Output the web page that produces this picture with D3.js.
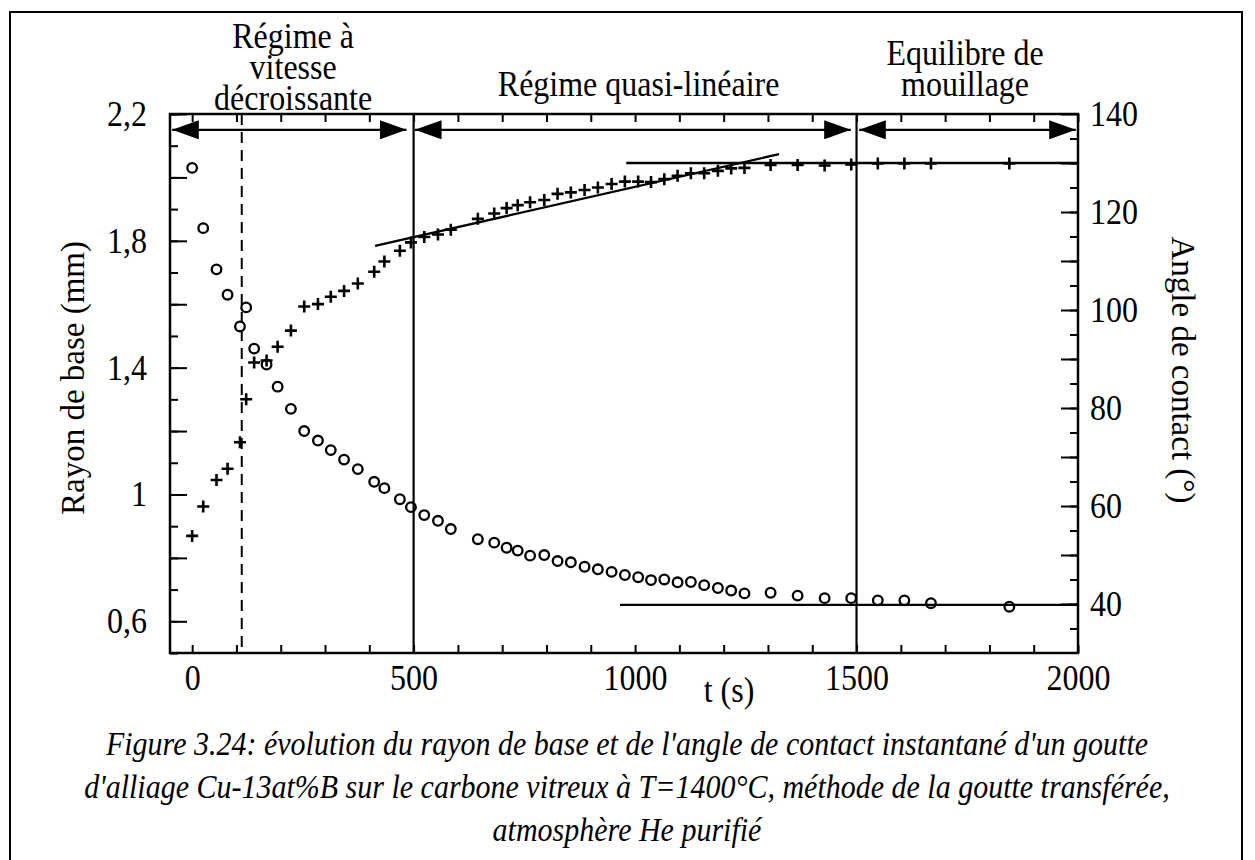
<!DOCTYPE html>
<html>
<head>
<meta charset="utf-8">
<script src="https://cdn.jsdelivr.net/npm/d3@7"></script>
<style>
  html, body { margin: 0; padding: 0; background: #fff; }
  svg { display: block; }
  text { font-family: "Liberation Serif", "Times New Roman", serif; fill: #000; }
</style>
</head>
<body>
<svg id="chart" width="1255" height="860"></svg>
<script>
// ---------------- data ----------------
const times = [0, 25, 55, 80, 108, 122, 140, 168, 193, 223,
  253, 284, 313, 343, 374, 411, 434, 469, 494, 524,
  555, 584, 645, 682, 710, 735, 763, 795, 825, 855,
  886, 916, 947, 977, 1007, 1036, 1066, 1096, 1126, 1156,
  1187, 1217, 1247, 1306, 1367, 1428, 1488, 1548, 1608, 1668, 1845];

const radius = [2.03, 1.84, 1.71, 1.63, 1.53, 1.59, 1.46, 1.41, 1.34, 1.27,
  1.20, 1.17, 1.14, 1.11, 1.08, 1.04, 1.02, 0.985, 0.96, 0.935,
  0.917, 0.891, 0.859, 0.848, 0.832, 0.823, 0.807, 0.809, 0.790, 0.786,
  0.772, 0.764, 0.756, 0.746, 0.739, 0.730, 0.732, 0.723, 0.724, 0.714,
  0.705, 0.697, 0.688, 0.690, 0.681, 0.673, 0.673, 0.666, 0.666, 0.657, 0.646];

const angle = [53.9, 59.9, 65.3, 67.6, 73.0, 81.8, 89.3, 89.7, 92.5, 95.8,
  100.7, 101.2, 102.7, 103.9, 105.4, 107.8, 109.9, 112.1, 113.8, 114.9,
  115.4, 116.4, 118.6, 119.7, 120.8, 121.4, 122.0, 122.45, 123.7, 124.0,
  124.5, 125.0, 125.7, 126.2, 126.2, 126.1, 126.7, 127.4, 127.9, 127.9,
  128.4, 128.9, 129.0, 129.6, 129.6, 129.5, 129.7, 129.9, 129.9, 129.9, 129.9];

const xTickLabels = [0, 500, 1000, 1500, 2000];
const leftTickLabels = [2.2, 1.8, 1.4, 1.0, 0.6];
const rightTickLabels = [40, 60, 80, 100, 120, 140];

// fitted lines: [t1, v1, t2, v2]
const slopeLine = [413, 113.1, 1325, 131.8];        // angle axis
const angleEquilibrium = [980, 130, 2000, 130];     // angle axis
const radiusEquilibrium = [966, 0.652, 2000, 0.652]; // radius axis

// regime boundaries (s)
const dashedBoundary = 112;
const solidBoundaries = [500, 1500];

// double arrows (s)
const arrowSpans = [[-45, 484], [503, 1487], [1506, 1995]];
const arrowLevel = 2.15; // on radius axis

const regimeLabels = [
  { t: 228, lines: ["Régime à", "vitesse", "décroissante"] },
  { t: 1008, lines: ["Régime quasi-linéaire"] },
  { t: 1745, lines: ["Equilibre de", "mouillage"] }
];
const regimeLastBaseline = [110, 96, 96];

const captionLines = [
  "Figure 3.24: évolution du rayon de base et de l'angle de contact instantané d'un goutte",
  "d'alliage Cu-13at%B sur le carbone vitreux à T=1400°C, méthode de la goutte transférée,",
  "atmosphère He purifié"
];

// ---------------- layout ----------------
const L = 170, R = 1078, T = 114, B = 653;
const svg = d3.select("#chart");
const FS = 32;
const SY = 1.12; // vertical stretch of the glyphs

const x = d3.scaleLinear().domain([-50, 2000]).range([L, R]);
const yL = d3.scaleLinear().domain([0.5, 2.2]).range([B, T]);
const yR = d3.scaleLinear().domain([30, 140]).range([B, T]);

// outer border (open at bottom)
svg.append("path")
  .attr("d", `M10,870 L10,12 L1242,12 L1242,870`)
  .attr("fill", "none").attr("stroke", "#000").attr("stroke-width", 2);

function styleAxis(g) {
  g.select(".domain").remove();
  g.selectAll(".tick line").attr("stroke", "#000").attr("stroke-width", 2);
  g.selectAll("text").attr("font-size", FS).attr("fill", "#000");
}
// stretch tick text vertically around its own anchor point
function stretchTicks(g) {
  g.selectAll(".tick text").each(function () {
    const t = d3.select(this);
    const tx = +t.attr("x") || 0, ty = +t.attr("y") || 0;
    t.attr("x", null).attr("y", null)
      .attr("transform", `translate(${tx},${ty}) scale(1,${SY})`);
  });
}

const fmtComma = v => (Math.abs(v - Math.round(v)) < 1e-9 ? String(Math.round(v)) : d3.format(".1f")(v).replace(".", ","));

// left axis: minor every 0.1, major every 0.2
const leftMinor = d3.range(0.5, 2.2001, 0.1).map(v => +v.toFixed(2));
const leftMajor = d3.range(0.6, 2.2001, 0.2).map(v => +v.toFixed(2));
svg.append("g").attr("transform", `translate(${L},0)`)
  .call(d3.axisLeft(yL).tickValues(leftMinor).tickSize(-8).tickFormat(""))
  .call(styleAxis);
svg.append("g").attr("transform", `translate(${L},0)`)
  .call(d3.axisLeft(yL).tickValues(leftMajor).tickSize(-17).tickPadding(23)
    .tickFormat(v => leftTickLabels.some(l => Math.abs(l - v) < 1e-6) ? fmtComma(v) : ""))
  .call(styleAxis).call(stretchTicks);

// right axis: minor every 5, major every 10
svg.append("g").attr("transform", `translate(${R},0)`)
  .call(d3.axisRight(yR).tickValues(d3.range(35, 140, 5)).tickSize(-8).tickFormat(""))
  .call(styleAxis);
svg.append("g").attr("transform", `translate(${R},0)`)
  .call(d3.axisRight(yR).tickValues(d3.range(40, 141, 10)).tickSize(-17).tickPadding(12)
    .tickFormat(v => rightTickLabels.includes(v) ? String(v) : ""))
  .call(styleAxis).call(stretchTicks);

// bottom axis
svg.append("g").attr("transform", `translate(0,${B})`)
  .call(d3.axisBottom(x).tickValues(d3.range(0, 2001, 100)).tickSize(-8).tickPadding(12)
    .tickFormat(v => xTickLabels.includes(v) ? String(v) : ""))
  .call(styleAxis).call(stretchTicks);
// top axis
svg.append("g").attr("transform", `translate(0,${T})`)
  .call(d3.axisTop(x).tickValues(d3.range(0, 2001, 100)).tickSize(-8).tickFormat(""))
  .call(styleAxis);

// plot frame
svg.append("rect").attr("x", L).attr("y", T).attr("width", R - L).attr("height", B - T)
  .attr("fill", "none").attr("stroke", "#000").attr("stroke-width", 2.5);

// axis titles
svg.append("text").attr("transform", `translate(729,702) scale(1,${SY})`).attr("text-anchor", "middle")
  .attr("font-size", FS).text("t (s)");
svg.append("text").attr("transform", `translate(84,378) rotate(-90)`)
  .attr("text-anchor", "middle").attr("font-size", 33).text("Rayon de base (mm)");
svg.append("text").attr("transform", `translate(1172,370) rotate(90)`)
  .attr("text-anchor", "middle").attr("font-size", 33).text("Angle de contact (°)");

// boundaries
svg.append("line").attr("x1", x(dashedBoundary)).attr("x2", x(dashedBoundary))
  .attr("y1", T).attr("y2", B).attr("stroke", "#000").attr("stroke-width", 2)
  .attr("stroke-dasharray", "11,7");
svg.selectAll(".vb").data(solidBoundaries).enter().append("line")
  .attr("x1", d => x(d)).attr("x2", d => x(d)).attr("y1", T).attr("y2", B)
  .attr("stroke", "#000").attr("stroke-width", 2.2);

// fitted lines
function fitLine(p, ys) {
  svg.append("line").attr("x1", x(p[0])).attr("y1", ys(p[1]))
    .attr("x2", x(p[2])).attr("y2", ys(p[3]))
    .attr("stroke", "#000").attr("stroke-width", 2.3);
}
fitLine(slopeLine, yR);
fitLine(angleEquilibrium, yR);
fitLine(radiusEquilibrium, yL);

// arrows
const defs = svg.append("defs");
defs.append("marker").attr("id", "ah").attr("viewBox", "0 0 28 20")
  .attr("refX", 28).attr("refY", 10).attr("markerWidth", 28).attr("markerHeight", 19)
  .attr("markerUnits", "userSpaceOnUse").attr("orient", "auto-start-reverse")
  .append("path").attr("d", "M0,0 L28,10 L0,20 Z").attr("fill", "#000");
svg.selectAll(".arr").data(arrowSpans).enter().append("line")
  .attr("x1", d => x(d[0])).attr("x2", d => x(d[1]))
  .attr("y1", yL(arrowLevel)).attr("y2", yL(arrowLevel))
  .attr("stroke", "#000").attr("stroke-width", 2.3)
  .attr("marker-start", "url(#ah)").attr("marker-end", "url(#ah)");

// regime labels (multi-line as tspans in one text element)
const lineH = 31 / SY;
regimeLabels.forEach((r, k) => {
  const n = r.lines.length;
  const firstBaseline = regimeLastBaseline[k] - (n - 1) * 31;
  const txt = svg.append("text")
    .attr("transform", `translate(${x(r.t)},${firstBaseline}) scale(1,${SY})`)
    .attr("text-anchor", "middle").attr("font-size", FS);
  r.lines.forEach((s, i) => {
    txt.append("tspan").attr("x", 0).attr("y", i * lineH).text(s);
  });
});

// circles: radius
svg.selectAll(".rc").data(times).enter().append("circle")
  .attr("cx", d => x(d)).attr("cy", (d, i) => yL(radius[i])).attr("r", 4.8)
  .attr("fill", "none").attr("stroke", "#000").attr("stroke-width", 2.3);

// crosses: angle
const cs = 6;
svg.selectAll(".cr").data(times).enter().append("path")
  .attr("transform", (d, i) => `translate(${x(d)},${yR(angle[i])})`)
  .attr("d", `M${-cs},0 L${cs},0 M0,${-cs} L0,${cs}`)
  .attr("stroke", "#000").attr("stroke-width", 2.6).attr("fill", "none");

// caption
captionLines.forEach((s, i) => {
  svg.append("text").attr("transform", `translate(627,${755 + i * 43}) scale(1,${SY})`)
    .attr("text-anchor", "middle").attr("font-size", 30).attr("font-style", "italic").text(s);
});
</script>
</body>
</html>
